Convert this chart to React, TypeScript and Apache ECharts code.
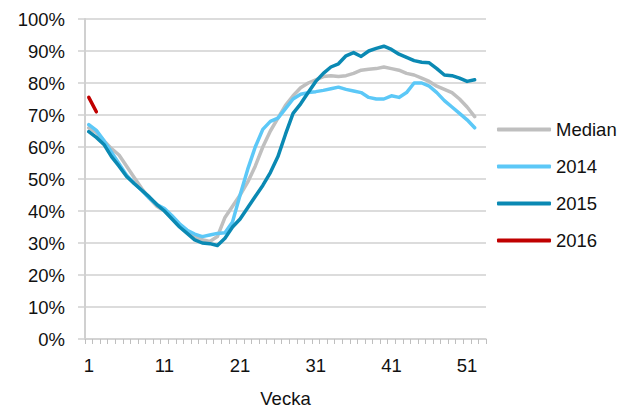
import React, { useEffect, useRef } from "react";
import * as echarts from "echarts";

const weeks: string[] = Array.from({ length: 53 }, (_, i) => String(i + 1));

const median: number[] = [
  66, 64.5, 62, 59.5, 57.5, 54, 50.5, 47, 44, 41.5,
  40, 38, 35.5, 33.5, 32, 31, 30.5, 32, 38, 41.5,
  45, 49, 54, 60, 65, 69, 73, 76, 78.5, 80,
  81, 82, 82.3, 82, 82.3, 83, 84, 84.3, 84.5, 85,
  84.5, 84, 83, 82.5, 81.5, 80.5, 79, 78, 77, 75,
  72.5, 69.5,
];

const y2014: number[] = [
  67, 65.2, 62, 58.4, 54.8, 51.2, 48.6, 46.5, 44, 42,
  40.8, 38.5, 36, 34, 32.8, 32, 32.5, 33, 33.2, 36.6,
  45, 53, 60, 65.5, 68, 69, 72, 75, 76.5, 77,
  77.3, 77.7, 78.2, 78.7, 78, 77.5, 77, 75.5, 75, 75,
  76, 75.5, 77, 80, 80, 79, 77, 74.5, 72.5, 70.5,
  68.5, 66,
];

const y2015: number[] = [
  64.8, 63, 60.8, 57, 54, 50.8, 48.6, 46.5, 44.4, 42,
  40, 37.5, 35, 33, 31, 30, 29.8, 29.2, 31.5, 35,
  37.5, 41, 44.5, 48, 52, 57, 64, 70.5, 73.5, 77,
  80.5, 83, 85, 86, 88.5, 89.5, 88.3, 90, 90.8, 91.5,
  90.5, 89, 88, 87, 86.5, 86.3, 84.5, 82.5, 82.3, 81.5,
  80.5, 81,
];

const y2016: (number | null)[] = [75.5, 71];

const seriesNames = ["Median", "2014", "2015", "2016"];
const seriesColors = ["#BFBFBF", "#5CC8F7", "#0A89B3", "#C00000"];
const yTicks = { min: 0, max: 100, interval: 10 };

const FONT = "Liberation Sans, Arial, sans-serif";

export default function App() {
  const ref = useRef<HTMLDivElement>(null);
  useEffect(() => {
    if (!ref.current) return;
    const chart = echarts.init(ref.current, undefined, { renderer: "svg" });
    const data = [median, y2014, y2015, y2016];
    chart.setOption({
      animation: false,
      backgroundColor: "#ffffff",
      textStyle: { fontFamily: FONT },
      grid: { left: 85, top: 19, width: 401, height: 320, containLabel: false, outerBoundsMode: "none" },
      legend: {
        orient: "vertical",
        left: 497,
        top: 120,
        padding: 0,
        icon: "roundRect",
        itemWidth: 54,
        itemHeight: 4,
        itemGap: 18,
        textStyle: { fontSize: 18.5, color: "#111", lineHeight: 18, fontFamily: FONT },
        data: seriesNames,
      },
      xAxis: {
        type: "category",
        data: weeks,
        boundaryGap: true,
        name: "Vecka",
        nameLocation: "middle",
        nameGap: 50,
        nameTextStyle: { fontSize: 18.5, color: "#111", fontFamily: FONT },
        axisLine: { show: true, lineStyle: { color: "#D0D0D0", width: 1.5 } },
        axisTick: { show: true, interval: 0, length: 5, lineStyle: { color: "#BFBFBF", width: 1 } },
        axisLabel: { interval: 9, fontSize: 18.5, color: "#111", margin: 17, fontFamily: FONT },
        splitLine: { show: false },
      },
      yAxis: {
        type: "value",
        min: yTicks.min,
        max: yTicks.max,
        interval: yTicks.interval,
        axisLine: { show: true, lineStyle: { color: "#D0D0D0", width: 2 } },
        axisTick: { show: true, length: 7, lineStyle: { color: "#D0D0D0", width: 1.5 } },
        axisLabel: { formatter: "{value}%", fontSize: 18.5, color: "#111", margin: 20, fontFamily: FONT },
        splitLine: { show: true, lineStyle: { color: "#D0D0D0", width: 1.5 } },
      },
      series: seriesNames.map((name, i) => ({
        name,
        type: "line",
        data: data[i],
        showSymbol: false,
        symbol: "none",
        smooth: false,
        connectNulls: false,
        lineStyle: { color: seriesColors[i], width: 3.5, cap: "round", join: "round" },
        itemStyle: { color: seriesColors[i] },
        z: i === 2 ? 4 : i === 1 ? 3 : 2,
      })),
    });
    return () => chart.dispose();
  }, []);
  return (
    <div
      ref={ref}
      style={{ position: "fixed", left: 0, top: 0, width: 624, height: 409, background: "#fff" }}
    />
  );
}
